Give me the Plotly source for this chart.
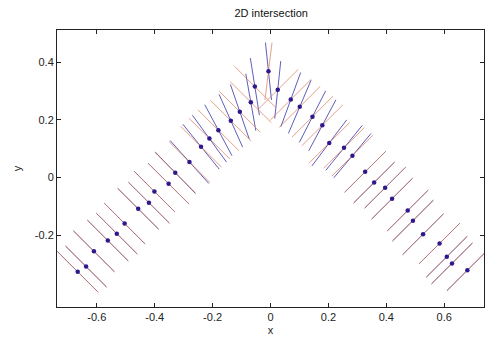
import numpy as np
import plotly.graph_objects as go

# Intersection points (data units)
dot_x = [-0.666, -0.637, -0.610, -0.562, -0.531, -0.504, -0.457, -0.420, -0.401, -0.352,
         -0.329, -0.280, -0.240, -0.211, -0.180, -0.137, -0.106, -0.068, -0.054,
         -0.007,
         0.025, 0.070, 0.101, 0.145, 0.179, 0.203, 0.254, 0.283, 0.327, 0.358,
         0.396, 0.420, 0.474, 0.492, 0.527, 0.584, 0.609, 0.627, 0.680]
dot_y = [-0.326, -0.308, -0.255, -0.218, -0.194, -0.159, -0.108, -0.087, -0.048, -0.021,
         0.017, 0.054, 0.107, 0.135, 0.164, 0.197, 0.228, 0.261, 0.315,
         0.368,
         0.304, 0.270, 0.245, 0.211, 0.181, 0.120, 0.103, 0.076, 0.020, -0.017,
         -0.035, -0.073, -0.114, -0.149, -0.196, -0.228, -0.274, -0.297, -0.321]
# red line direction (degrees)
red_ang = [-45] * 19 + [83] + [45] * 19
# blue line direction (degrees)
blue_ang = [-45, -45, -45, -45, -45, -45, -45, -45, -45, -45,
            -46, -48, -51, -54, -62, -66, -71, -80, -81,
            96,
            84, 70, 67, 63, 62, 53, 51, 50, 45, 45,
            45, 45, 45, 45, 45, 45, 45, 45, 45]
seg_len = 0.2

x_ticks = [-0.6, -0.4, -0.2, 0, 0.2, 0.4, 0.6]
y_ticks = [-0.2, 0, 0.2, 0.4]


def segments(xs, ys, angs, length):
    sx, sy = [], []
    for x, y, a in zip(xs, ys, angs):
        r = np.deg2rad(a)
        dx, dy = 0.5 * length * np.cos(r), 0.5 * length * np.sin(r)
        sx += [x - dx, x + dx, None]
        sy += [y - dy, y + dy, None]
    return sx, sy


bx, by = segments(dot_x, dot_y, blue_ang, seg_len)
rx, ry = segments(dot_x, dot_y, red_ang, seg_len)

fig = go.Figure()
fig.add_trace(go.Scatter(x=bx, y=by, mode="lines",
                         line=dict(color="rgb(95,95,185)", width=1),
                         hoverinfo="skip", showlegend=False))
fig.add_trace(go.Scatter(x=rx, y=ry, mode="lines", opacity=0.75,
                         line=dict(color="rgb(220,130,100)", width=1),
                         hoverinfo="skip", showlegend=False))
fig.add_trace(go.Scatter(x=dot_x, y=dot_y, mode="markers",
                         marker=dict(color="rgb(45,25,140)", size=4.5),
                         hoverinfo="skip", showlegend=False))

font = dict(family="Liberation Sans, Arial, sans-serif", size=11, color="#222")
axis_common = dict(showgrid=False, zeroline=False, showline=True, linecolor="#222",
                   linewidth=1, mirror="allticks", ticks="inside", ticklen=4,
                   tickcolor="#222", tickfont=font)
fig.update_layout(
    width=486, height=340,
    margin=dict(l=57, r=2, t=30, b=33),
    paper_bgcolor="white", plot_bgcolor="white",
    title=dict(text="2D intersection", x=0.558, xanchor="center", y=0.962, yanchor="middle",
               font=dict(family="Liberation Sans, Arial, sans-serif", size=11, color="#111")),
    xaxis=dict(range=[-0.7375, 0.7375], tickvals=x_ticks,
               ticktext=["-0.6", "-0.4", "-0.2", "0", "0.2", "0.4", "0.6"],
               title=dict(text="x", font=font, standoff=4), **axis_common),
    yaxis=dict(range=[-0.448, 0.511], tickvals=y_ticks,
               ticktext=["-0.2", "0", "0.2", "0.4"],
               title=dict(text="y", font=font, standoff=10), **axis_common),
)
fig.write_html("out.html", config={"displayModeBar": False},
               post_script="document.body.style.margin='0';document.body.style.padding='0';")
